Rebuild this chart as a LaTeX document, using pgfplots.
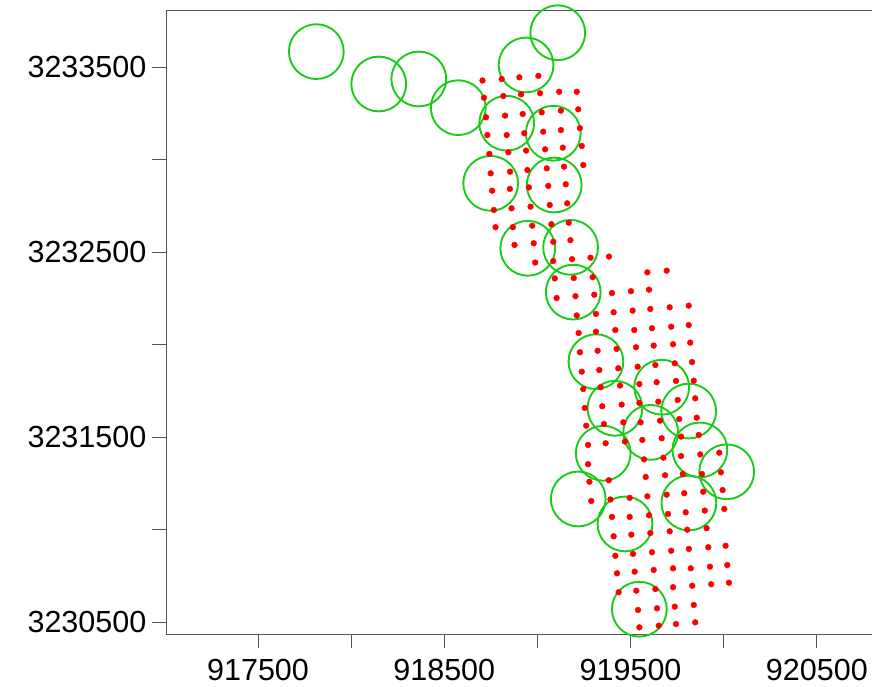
\documentclass[border=0pt]{standalone}
\usepackage{pgfplots}
\pgfplotsset{compat=1.18}
\usepackage{fontspec}
\setmainfont{Liberation Sans}
\definecolor{cgreen}{RGB}{25,204,25}
\definecolor{axgray}{RGB}{85,85,85}
\begin{document}
\begin{tikzpicture}
\begin{axis}[
  scale only axis,
  width=706bp, height=624bp,
  xmin=917006, xmax=920796,
  ymin=3230435, ymax=3233808,
  axis x line*=box, axis y line*=left,
  xtick pos=left,
  tick align=outside,
  major tick length=14.5bp,
  axis line style={draw=axgray, line width=0.8bp},
  every tick/.style={draw=axgray, line width=0.8bp},
  xtick={917500,918000,918500,919000,919500,920000,920500},
  xticklabels={917500,,918500,,919500,,920500},
  ytick={3230500,3231000,3231500,3232000,3232500,3233000,3233500},
  yticklabels={3230500,,3231500,,3232500,,3233500},
  xticklabel style={font=\fontsize{30.5bp}{36bp}\selectfont, inner sep=0pt, yshift=-11bp},
  yticklabel style={font=\fontsize{30.5bp}{36bp}\selectfont, inner sep=0pt, xshift=-5bp},
  scaled ticks=false,
]
\addplot[cgreen, only marks, mark=o, mark size=27.5pt, mark options={draw=cgreen, line width=1.9pt}] table {
x y
917813 3233583
918148 3233408
918363 3233435
918575 3233280
918939 3233511
919109 3233685
918835 3233196
919085 3233142
918749 3232871
919090 3232862
918948 3232520
919178 3232525
919192 3232283
919314 3231907
919667 3231769
919416 3231655
919812 3231640
919608 3231525
919872 3231430
919353 3231412
920016 3231312
919219 3231165
919813 3231143
919470 3231030
919547 3230569
};
\addplot[red, only marks, mark=*, mark size=2.9pt] table {
x y
918705 3233427
918808 3233435
918903 3233444
919005 3233452
918713 3233334
918817 3233343
918912 3233352
919014 3233358
919117 3233366
919211 3233366
918724 3233228
918826 3233237
918921 3233246
919023 3233255
919126 3233264
919219 3233271
918731 3233132
918835 3233132
918929 3233142
919031 3233150
919126 3233159
919228 3233169
918742 3233030
918844 3233039
918939 3233048
919041 3233055
919136 3233064
919238 3233073
918749 3232925
918853 3232934
918946 3232943
919050 3232952
919143 3232961
919246 3232970
918757 3232831
918852 3232841
918954 3232849
919058 3232857
919152 3232866
918766 3232727
918861 3232736
918963 3232745
919066 3232754
919160 3232763
918775 3232634
918868 3232634
918972 3232642
919075 3232650
919168 3232658
918877 3232538
918980 3232547
919085 3232555
919177 3232564
918988 3232443
919085 3232451
919186 3232461
919285 3232469
919384 3232475
919590 3232390
919694 3232399
919093 3232357
919195 3232359
919297 3232364
919103 3232251
919204 3232261
919305 3232269
919400 3232278
919502 3232288
919599 3232296
919211 3232157
919314 3232165
919409 3232174
919511 3232183
919606 3232192
919710 3232201
919812 3232210
919221 3232062
919314 3232069
919418 3232078
919520 3232078
919615 3232088
919718 3232096
919812 3232105
919228 3231958
919323 3231966
919425 3231976
919529 3231985
919624 3231994
919728 3232001
919820 3232010
919238 3231853
919332 3231862
919434 3231871
919538 3231880
919633 3231889
919737 3231898
919830 3231905
919246 3231759
919340 3231769
919443 3231778
919547 3231786
919640 3231796
919744 3231803
919839 3231804
919254 3231657
919348 3231666
919452 3231675
919547 3231684
919649 3231691
919753 3231700
919847 3231709
919262 3231561
919357 3231570
919461 3231579
919554 3231579
919658 3231588
919761 3231597
919855 3231604
919272 3231457
919366 3231466
919470 3231475
919563 3231484
919667 3231493
919771 3231502
919866 3231511
919272 3231353
919572 3231379
919676 3231388
919771 3231397
919874 3231406
919976 3231415
919279 3231258
919383 3231266
919581 3231284
919685 3231293
919780 3231300
919883 3231300
919985 3231309
919289 3231154
919392 3231162
919495 3231171
919590 3231179
919694 3231188
919788 3231196
919890 3231204
919994 3231213
919400 3231068
919495 3231068
919599 3231077
919701 3231084
919796 3231093
919898 3231102
920003 3231111
919409 3230963
919504 3230972
919606 3230981
919710 3230990
919804 3230999
919908 3231007
919418 3230858
919513 3230868
919615 3230877
919718 3230885
919813 3230895
919917 3230904
920010 3230912
919427 3230763
919522 3230772
919624 3230781
919728 3230790
919823 3230790
919926 3230799
920019 3230808
919436 3230661
919531 3230669
919633 3230678
919728 3230688
919831 3230696
919933 3230704
920028 3230712
919540 3230565
919642 3230574
919737 3230583
919839 3230592
919547 3230471
919651 3230480
919744 3230489
919847 3230498
};
\end{axis}
\pgfresetboundingbox
\path[use as bounding box] ([xshift=-166bp,yshift=-53bp]current axis.south west) rectangle ([yshift=10bp]current axis.north east);
\end{tikzpicture}
\end{document}
